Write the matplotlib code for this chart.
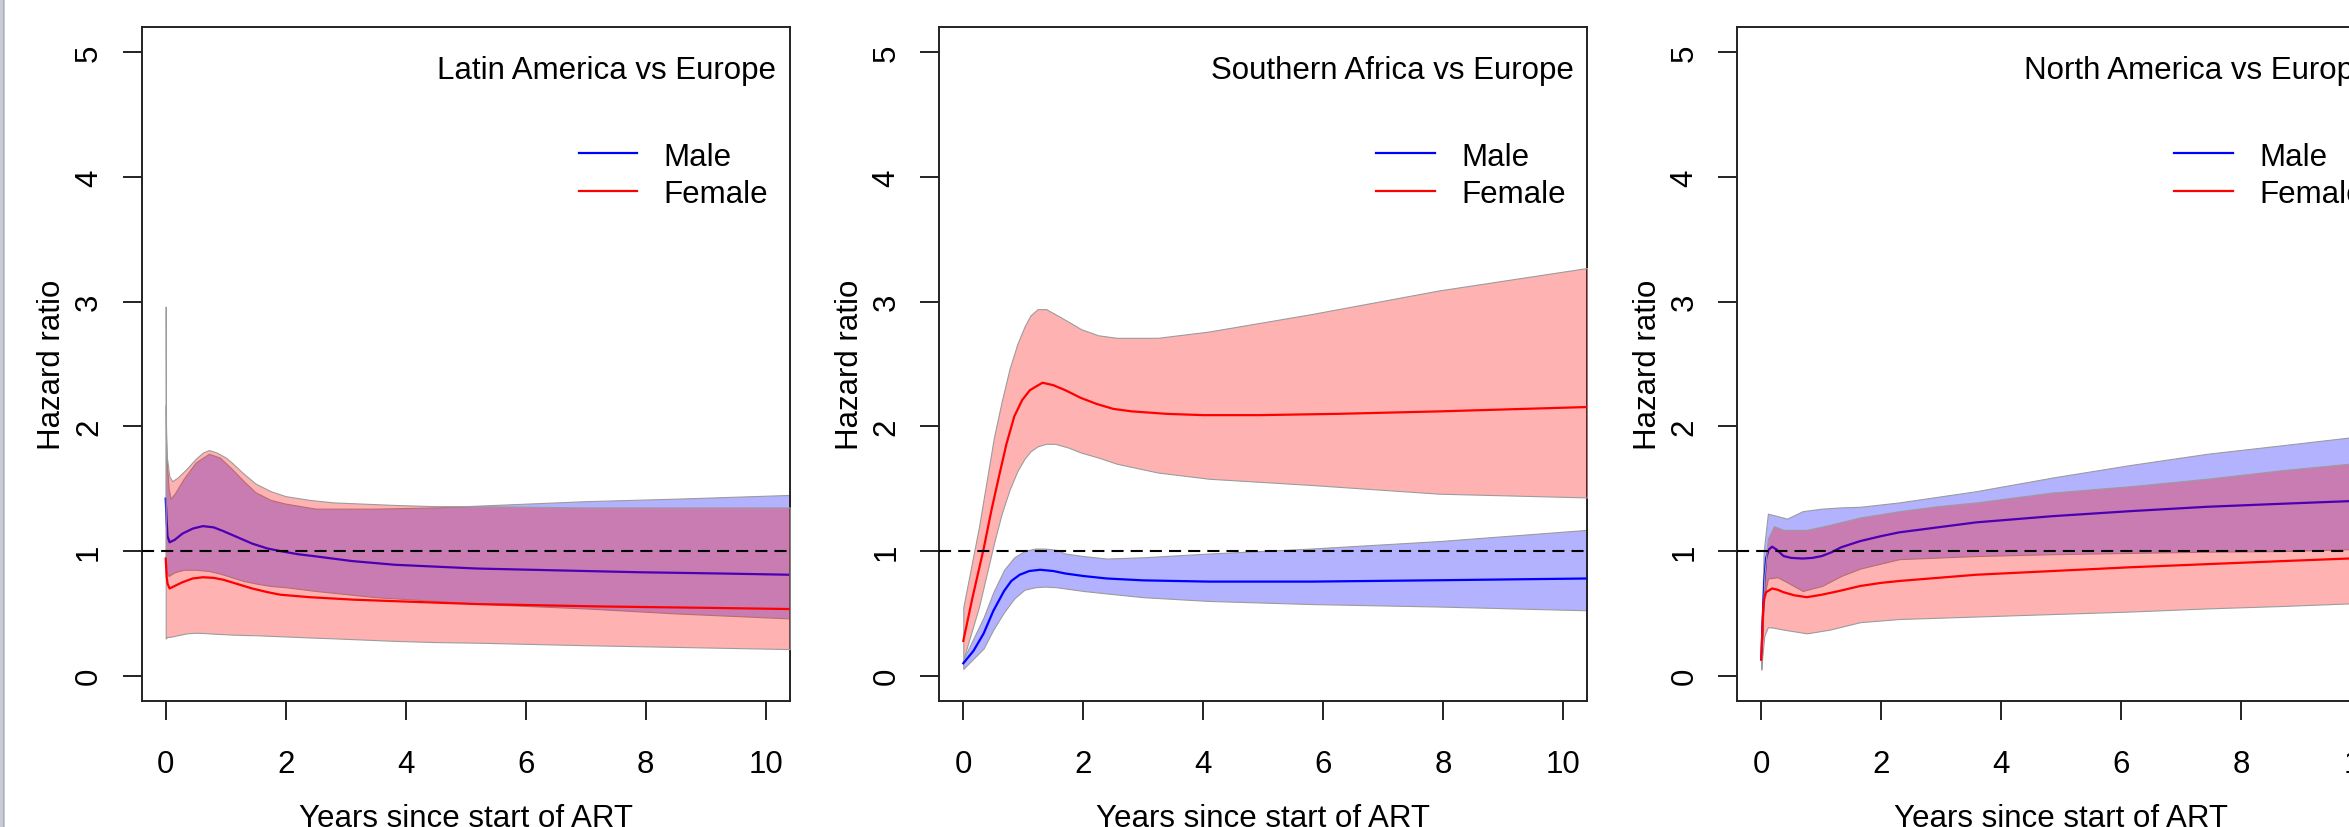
import matplotlib
matplotlib.use("Agg")
import matplotlib.pyplot as plt
from matplotlib.patches import Rectangle

plt.rcParams['font.family'] = ['Liberation Sans', 'DejaVu Sans']

# ---------------- data ----------------
panel_titles = ["Latin America vs Europe", "Southern Africa vs Europe", "North America vs Europe"]
series_names = ["Male", "Female"]
x_ticks = [0, 2, 4, 6, 8, 10]
y_ticks = [0, 1, 2, 3, 4, 5]

# Panel 1: Latin America vs Europe
p1_male_x = [0, 0.015, 0.03, 0.065, 0.15, 0.28, 0.45, 0.62, 0.8, 0.96, 1.2, 1.44, 1.7, 1.91, 2.2, 2.46, 3.1, 3.82, 5.18, 6.54, 7.9, 9.26, 10.4]
p1_male_y = [1.42, 1.25, 1.12, 1.07, 1.09, 1.14, 1.18, 1.20, 1.19, 1.16, 1.11, 1.06, 1.02, 1.00, 0.975, 0.96, 0.92, 0.89, 0.86, 0.845, 0.83, 0.82, 0.81]
p1_female_x = [0, 0.015, 0.03, 0.065, 0.15, 0.28, 0.45, 0.62, 0.8, 0.96, 1.2, 1.44, 1.7, 1.91, 2.4, 3.14, 4.0, 5.18, 7.22, 9.26, 10.4]
p1_female_y = [0.94, 0.80, 0.74, 0.70, 0.72, 0.75, 0.78, 0.79, 0.785, 0.77, 0.735, 0.70, 0.67, 0.65, 0.63, 0.61, 0.595, 0.575, 0.556, 0.543, 0.535]
p1_male_ci_x = [0, 0.005, 0.02, 0.05, 0.08, 0.15, 0.3, 0.5, 0.72, 0.9, 1.1, 1.3, 1.5, 1.75, 2.0, 2.5, 3.5, 4.5, 5.5, 7.0, 8.5, 10.4]
p1_male_lo = [0.92, 0.90, 0.82, 0.80, 0.81, 0.83, 0.85, 0.85, 0.84, 0.82, 0.79, 0.76, 0.74, 0.72, 0.71, 0.68, 0.63, 0.60, 0.57, 0.54, 0.50, 0.46]
p1_male_hi = [2.96, 2.0, 1.7, 1.5, 1.42, 1.46, 1.58, 1.71, 1.78, 1.75, 1.66, 1.56, 1.47, 1.41, 1.38, 1.34, 1.34, 1.35, 1.37, 1.40, 1.42, 1.45]
p1_female_ci_x = [0, 0.005, 0.02, 0.06, 0.11, 0.2, 0.35, 0.5, 0.62, 0.72, 0.85, 1.0, 1.1, 1.3, 1.5, 1.75, 2.0, 2.4, 2.8, 3.8, 4.5, 5.2, 7.0, 10.4]
p1_female_lo = [0.30, 0.30, 0.31, 0.312, 0.315, 0.325, 0.34, 0.345, 0.343, 0.34, 0.336, 0.333, 0.33, 0.327, 0.325, 0.32, 0.315, 0.307, 0.30, 0.28, 0.27, 0.265, 0.245, 0.214]
p1_female_hi = [2.17, 1.9, 1.75, 1.6, 1.56, 1.59, 1.66, 1.74, 1.79, 1.81, 1.79, 1.75, 1.71, 1.62, 1.54, 1.48, 1.44, 1.41, 1.39, 1.37, 1.36, 1.36, 1.35, 1.35]

# Panel 2: Southern Africa vs Europe
p2_male_x = [0, 0.17, 0.34, 0.5, 0.68, 0.8, 0.94, 1.1, 1.28, 1.5, 1.7, 2.0, 2.39, 3.0, 4.09, 5.8, 7.93, 10.4]
p2_male_y = [0.10, 0.20, 0.34, 0.52, 0.68, 0.76, 0.81, 0.84, 0.85, 0.84, 0.82, 0.80, 0.78, 0.765, 0.755, 0.755, 0.766, 0.78]
p2_female_x = [0, 0.15, 0.34, 0.47, 0.6, 0.72, 0.85, 0.98, 1.11, 1.32, 1.5, 1.7, 1.95, 2.22, 2.5, 2.81, 3.4, 4.0, 4.94, 6.22, 7.93, 10.4]
p2_female_y = [0.28, 0.62, 1.02, 1.33, 1.61, 1.86, 2.08, 2.21, 2.29, 2.35, 2.33, 2.29, 2.23, 2.18, 2.14, 2.12, 2.10, 2.09, 2.09, 2.10, 2.12, 2.155]
p2_male_ci_x = [0, 0.34, 0.5, 0.68, 0.85, 1.02, 1.2, 1.36, 1.55, 1.7, 2.0, 2.39, 3.0, 4.09, 5.8, 7.93, 10.4]
p2_male_lo = [0.055, 0.22, 0.37, 0.51, 0.62, 0.69, 0.71, 0.715, 0.71, 0.70, 0.68, 0.66, 0.63, 0.60, 0.575, 0.555, 0.525]
p2_male_hi = [0.13, 0.47, 0.67, 0.85, 0.95, 1.00, 1.02, 1.02, 1.01, 0.98, 0.96, 0.94, 0.95, 0.98, 1.02, 1.08, 1.17]
p2_female_ci_x = [0, 0.26, 0.51, 0.64, 0.77, 0.9, 1.02, 1.12, 1.24, 1.38, 1.53, 1.75, 1.96, 2.25, 2.56, 3.24, 4.09, 5.8, 7.93, 10.4]
p2_female_lo = [0.13, 0.55, 1.06, 1.30, 1.49, 1.64, 1.74, 1.80, 1.84, 1.86, 1.86, 1.83, 1.79, 1.75, 1.70, 1.63, 1.58, 1.53, 1.46, 1.43]
p2_female_hi = [0.55, 1.19, 1.91, 2.20, 2.46, 2.66, 2.80, 2.89, 2.94, 2.94, 2.90, 2.84, 2.78, 2.73, 2.71, 2.71, 2.76, 2.90, 3.09, 3.27]

# Panel 3: North America vs Europe
p3_male_x = [0, 0.02, 0.05, 0.08, 0.12, 0.18, 0.26, 0.37, 0.5, 0.69, 0.85, 1.01, 1.17, 1.33, 1.65, 2.0, 2.3, 3.58, 4.86, 6.15, 7.43, 8.71, 9.79, 10.4]
p3_male_y = [0.13, 0.40, 0.75, 0.94, 1.01, 1.035, 1.01, 0.96, 0.945, 0.94, 0.945, 0.96, 0.99, 1.03, 1.08, 1.12, 1.15, 1.23, 1.28, 1.32, 1.355, 1.38, 1.40, 1.41]
p3_female_x = [0, 0.03, 0.05, 0.08, 0.18, 0.27, 0.37, 0.55, 0.76, 1.01, 1.3, 1.65, 2.0, 2.3, 3.58, 4.86, 6.15, 7.43, 8.71, 9.79, 10.4]
p3_female_y = [0.13, 0.53, 0.62, 0.67, 0.70, 0.69, 0.67, 0.645, 0.63, 0.65, 0.68, 0.72, 0.745, 0.76, 0.81, 0.84, 0.87, 0.895, 0.92, 0.94, 0.95]
p3_male_ci_x = [0, 0.04, 0.11, 0.27, 0.43, 0.69, 1.01, 1.33, 1.65, 2.3, 3.58, 4.86, 6.15, 7.43, 8.71, 9.79, 10.4]
p3_male_lo = [0.05, 0.61, 0.78, 0.79, 0.75, 0.68, 0.72, 0.80, 0.86, 0.935, 0.96, 0.975, 0.985, 0.995, 1.0, 1.015, 1.02]
p3_male_hi = [0.27, 1.00, 1.30, 1.28, 1.26, 1.32, 1.34, 1.35, 1.355, 1.39, 1.48, 1.59, 1.69, 1.78, 1.85, 1.91, 1.94]
p3_female_ci_x = [0, 0.05, 0.11, 0.21, 0.37, 0.76, 1.14, 1.65, 2.3, 2.94, 3.58, 4.86, 6.15, 7.43, 8.71, 9.79, 10.4]
p3_female_lo = [0.07, 0.32, 0.39, 0.385, 0.37, 0.34, 0.37, 0.43, 0.455, 0.465, 0.475, 0.495, 0.515, 0.54, 0.56, 0.58, 0.59]
p3_female_hi = [0.19, 0.80, 1.10, 1.20, 1.17, 1.17, 1.21, 1.27, 1.32, 1.36, 1.39, 1.47, 1.52, 1.58, 1.65, 1.70, 1.73]

panels = [
    (p1_male_x, p1_male_y, p1_male_ci_x, p1_male_lo, p1_male_hi,
     p1_female_x, p1_female_y, p1_female_ci_x, p1_female_lo, p1_female_hi),
    (p2_male_x, p2_male_y, p2_male_ci_x, p2_male_lo, p2_male_hi,
     p2_female_x, p2_female_y, p2_female_ci_x, p2_female_lo, p2_female_hi),
    (p3_male_x, p3_male_y, p3_male_ci_x, p3_male_lo, p3_male_hi,
     p3_female_x, p3_female_y, p3_female_ci_x, p3_female_lo, p3_female_hi),
]

# ---------------- figure ----------------
W, H = 2349, 828
fig = plt.figure(figsize=(W / 100, H / 100), dpi=100)
fig.patch.set_facecolor('white')

# left window-border strip
fig.add_artist(Rectangle((0, 0), 4.5 / W, 1, transform=fig.transFigure,
                         facecolor='#c9ccd3', edgecolor='none'))
fig.add_artist(Rectangle((2.5 / W, 0), 1.2 / W, 1, transform=fig.transFigure,
                         facecolor='#a9adb6', edgecolor='none'))

lefts_px = [141.7, 939.3, 1737.3]
ax_w = 648 / W
ax_b = 126.3 / H
ax_h = 673.4 / H

FS = 22.5
blue = '#0000FF'
red = '#FF0000'
fill_blue = (0, 0, 1, 0.3)
fill_red = (1, 0, 0, 0.3)
edge_grey = '#9c9c9c'

for i, (title, d) in enumerate(zip(panel_titles, panels)):
    (mx, my, mcx, mlo, mhi, fx, fy, fcx, flo, fhi) = d
    ax = fig.add_axes([lefts_px[i] / W, ax_b, ax_w, ax_h])
    ax.set_xlim(-0.4, 10.4)
    ax.set_ylim(-0.2, 5.2)

    ax.fill_between(mcx, mlo, mhi, facecolor=fill_blue, edgecolor=edge_grey, linewidth=0.8, zorder=2)
    ax.plot(mx, my, color=blue, lw=1.6, zorder=3)
    ax.fill_between(fcx, flo, fhi, facecolor=fill_red, edgecolor=edge_grey, linewidth=0.8, zorder=4)
    ax.plot(fx, fy, color=red, lw=1.6, zorder=5)
    ax.axhline(1, color='black', lw=1.5, linestyle=(0, (5.8, 3.4)), zorder=6)

    ax.text(10.17, 4.793, title, ha='right', va='baseline', fontsize=FS, zorder=7)
    ax.plot([6.88, 7.86], [4.19, 4.19], color=blue, lw=1.6, zorder=7)
    ax.plot([6.88, 7.86], [3.89, 3.89], color=red, lw=1.6, zorder=7)
    ax.text(8.30, 4.098, series_names[0], ha='left', va='baseline', fontsize=FS, zorder=7)
    ax.text(8.30, 3.796, series_names[1], ha='left', va='baseline', fontsize=FS, zorder=7)

    for s in ax.spines.values():
        s.set_linewidth(1.4)
        s.set_color('#222222')
    ax.set_xticks(x_ticks)
    ax.set_xticklabels([str(t) for t in x_ticks])
    ax.set_yticks(y_ticks)
    ax.set_yticklabels([str(t) for t in y_ticks])
    ax.tick_params(axis='both', direction='out', length=14, width=1.4, color='#222222',
                   labelsize=FS)
    ax.tick_params(axis='x', pad=21)
    ax.tick_params(axis='y', pad=18.2)
    for lab in ax.get_yticklabels():
        lab.set_rotation(90)
        lab.set_rotation_mode('anchor')
        lab.set_ha('center')
        lab.set_va('baseline')

    # axis titles
    ax.text(0.5, -(827.2 - 701.7) / 673.4, "Years since start of ART", transform=ax.transAxes,
            ha='center', va='baseline', fontsize=FS)
    ax.text((60 - lefts_px[0]) / 648, 0.5, "Hazard ratio", transform=ax.transAxes,
            rotation=90, rotation_mode='anchor', ha='center', va='baseline', fontsize=FS)

fig.savefig("out.png", dpi=100)
